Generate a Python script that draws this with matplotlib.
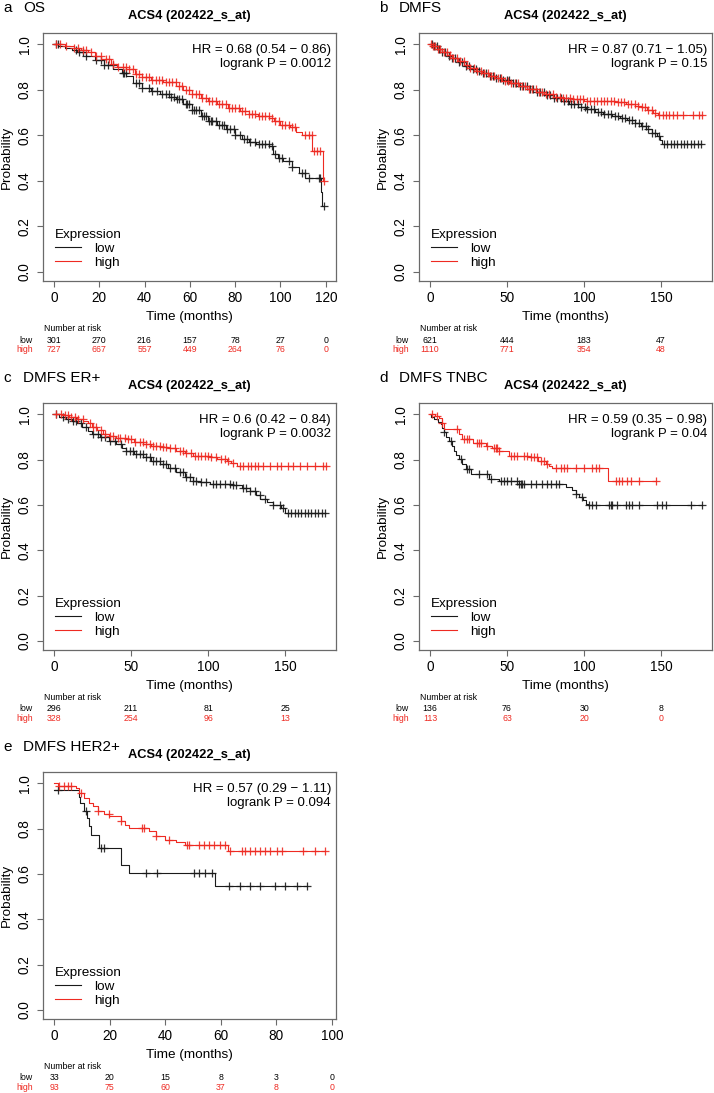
import numpy as np
import matplotlib
matplotlib.use("Agg")
import matplotlib.pyplot as plt
from matplotlib.lines import Line2D
from matplotlib.transforms import blended_transform_factory

plt.rcParams['font.family'] = ['Liberation Sans', 'DejaVu Sans']

LOW_COL = '#1a1a1a'
HIGH_COL = '#ee2a22'
FRAME = '#6a6a6a'
W, H = 714, 1093

# ---- a: OS ----
os_low_t = [0, 2, 5, 8, 10, 14, 18, 22, 26, 30, 32, 35, 39, 43, 47, 51, 54, 57, 61, 65, 68, 72,
            76, 80, 83, 86, 89, 95, 96.5, 99, 101, 105, 108, 111, 117.8, 118.3]
os_low_s = [1.0, 0.995, 0.985, 0.975, 0.965, 0.95, 0.93, 0.91, 0.89, 0.875, 0.86, 0.83, 0.81, 0.795,
            0.78, 0.768, 0.759, 0.74, 0.71, 0.685, 0.665, 0.645, 0.627, 0.60, 0.585, 0.57, 0.561,
            0.554, 0.517, 0.50, 0.488, 0.46, 0.436, 0.411, 0.35, 0.29]
os_low_cens = [1.0, 1.7, 9.8, 11.3, 12.7, 14.2, 18.6, 20.8, 22.3, 23.7, 25.9, 30.3, 31.0, 31.8, 36.2,
               37.7, 39.1, 42.0, 43.5, 45.7, 47.9, 49.4, 50.8, 51.6, 53.0, 54.5, 55.2, 56.7, 58.2,
               58.9, 59.6, 61.1, 61.8, 62.6, 64.0, 65.5, 66.2, 67.0, 68.4, 69.2, 69.9, 71.4, 72.8,
               74.3, 75.0, 76.5, 77.9, 79.4, 80.1, 82.3, 83.8, 85.3, 86.7, 88.9, 90.4, 91.9, 93.3,
               94.8, 96.3, 97.7, 99.2, 100.7, 103.6, 105.1, 109.4, 110.9, 112.4, 116.8, 117.5, 119.0]
os_high_t = [0, 5, 9, 12, 15, 18, 21, 25, 28, 32, 36, 39, 43, 48, 54, 57, 61, 65, 68, 72, 77, 82,
             86, 90, 95, 97, 100, 104, 107, 109.5, 114.1, 118.6]
os_high_s = [1.0, 0.995, 0.985, 0.975, 0.965, 0.95, 0.935, 0.915, 0.90, 0.89, 0.87, 0.855, 0.845,
             0.835, 0.818, 0.80, 0.781, 0.765, 0.752, 0.737, 0.722, 0.708, 0.693, 0.685, 0.678,
             0.665, 0.645, 0.635, 0.615, 0.60, 0.53, 0.40]
os_high_cens = [1.0, 2.5, 5.4, 9.1, 10.5, 12.7, 14.2, 16.4, 18.6, 20.8, 23.0, 24.5, 25.9, 28.1, 30.3,
                31.8, 33.3, 34.7, 36.2, 37.7, 39.1, 40.6, 42.0, 43.5, 45.0, 46.4, 47.9, 49.4, 50.8,
                52.3, 53.8, 55.2, 56.7, 58.2, 59.6, 61.1, 62.6, 64.0, 65.5, 67.0, 68.4, 69.9, 71.4,
                72.8, 74.3, 75.8, 77.2, 78.7, 80.1, 81.6, 83.1, 84.5, 86.0, 87.5, 88.9, 90.4, 91.9,
                93.3, 94.8, 96.3, 97.7, 99.2, 100.7, 102.1, 103.6, 105.1, 106.5, 110.9, 112.4,
                113.8, 114.8, 116.0, 117.5, 119.0]
os_risk_low = [301, 270, 216, 157, 78, 27, 0]
os_risk_high = [727, 667, 557, 449, 264, 76, 0]

# ---- b: DMFS ----
dmfs_low_t = [0, 2, 5, 8, 11, 14, 18, 22, 26, 30, 34, 38, 42, 47, 52, 58, 63, 69, 74, 80, 85, 90,
              96, 101, 107, 112, 118, 123, 128, 133, 137, 140, 144, 147, 149, 150.5]
dmfs_low_s = [1.0, 0.995, 0.98, 0.965, 0.95, 0.94, 0.922, 0.906, 0.893, 0.882, 0.872, 0.86, 0.852,
              0.842, 0.832, 0.818, 0.805, 0.79, 0.778, 0.765, 0.752, 0.74, 0.725, 0.715, 0.703,
              0.693, 0.685, 0.678, 0.668, 0.656, 0.64, 0.627, 0.61, 0.598, 0.578, 0.561]
dmfs_low_cens = [1.2, 2.9, 4.3, 6.2, 8.1, 10.0, 12.3, 14.4, 16.5, 18.9, 20.8, 23.3, 25.2, 27.7,
                 29.6, 32.1, 34.3, 36.2, 38.7, 40.6, 43.1, 45.3, 47.2, 49.7, 51.6, 54.1, 56.0,
                 58.5, 60.4, 62.9, 65.1, 67.0, 69.5, 71.4, 73.9, 76.1, 78.0, 80.5, 82.4, 84.9,
                 86.8, 89.3, 91.5, 93.4, 95.9, 97.8, 100.3, 102.2, 104.7, 106.6, 109.1, 111.3,
                 113.2, 115.7, 117.6, 120.1, 122.0, 124.5, 126.4, 128.9, 131.1, 133.0, 135.5,
                 137.4, 139.9, 141.8, 144.3, 146.2, 148.7, 152.0, 154.1, 156.3, 158.4, 160.6,
                 162.8, 164.9, 167.1, 169.3, 171.4, 173.6, 175.8]
dmfs_high_t = [0, 2, 5, 8, 11, 14, 18, 22, 26, 30, 34, 38, 42, 47, 52, 58, 63, 69, 74, 80, 86, 92,
               100, 112, 120, 127, 133, 137, 141, 145, 148]
dmfs_high_s = [1.0, 0.995, 0.98, 0.965, 0.952, 0.94, 0.925, 0.91, 0.895, 0.882, 0.872, 0.862,
               0.852, 0.84, 0.83, 0.818, 0.805, 0.79, 0.78, 0.77, 0.763, 0.758, 0.752, 0.749,
               0.745, 0.737, 0.73, 0.725, 0.712, 0.70, 0.689]
dmfs_high_cens = [0.8, 2.1, 3.6, 5.0, 6.7, 8.9, 10.8, 13.0, 15.2, 17.5, 19.6, 21.9, 24.1, 26.3,
                  28.6, 30.7, 33.0, 35.2, 37.4, 39.7, 41.8, 44.1, 46.3, 48.5, 50.8, 52.9, 55.2,
                  57.4, 59.6, 61.9, 64.0, 66.3, 68.5, 70.7, 73.0, 75.1, 77.4, 79.6, 81.8, 84.1,
                  86.2, 88.5, 90.7, 92.9, 95.2, 97.3, 99.6, 101.8, 104.0, 106.3, 108.4, 110.7,
                  112.9, 115.1, 117.4, 119.5, 121.8, 124.0, 126.2, 128.5, 130.6, 132.9, 135.1,
                  137.3, 139.6, 141.7, 144.0, 146.2, 148.7, 150.9, 153.0, 155.2, 157.4, 160.6,
                  163.9, 170.4, 174.7, 176.8]
dmfs_risk_low = [621, 444, 183, 47]
dmfs_risk_high = [1110, 771, 354, 48]

# ---- c: DMFS ER+ ----
er_low_t = [0, 3, 8, 12, 15, 18, 22, 25, 30, 36, 40, 44, 47, 52, 58, 63, 69, 74, 79, 85, 90, 95,
            101, 116, 122, 127, 131, 134, 138, 142, 147, 150]
er_low_s = [1.0, 0.99, 0.98, 0.97, 0.96, 0.945, 0.928, 0.912, 0.90, 0.883, 0.87, 0.852, 0.839,
            0.825, 0.81, 0.795, 0.781, 0.765, 0.744, 0.725, 0.707, 0.70, 0.693, 0.686, 0.675,
            0.661, 0.645, 0.627, 0.612, 0.598, 0.585, 0.564]
er_low_cens = [1.5, 5.8, 9.1, 12.3, 14.5, 17.7, 21.0, 25.3, 28.6, 30.7, 32.9, 36.2, 39.4, 43.7,
               47.0, 49.1, 51.3, 53.5, 55.6, 57.8, 60.0, 62.1, 64.3, 66.5, 68.6, 70.8, 72.9, 75.1,
               78.4, 81.6, 83.8, 86.0, 88.1, 90.3, 92.4, 95.7, 98.9, 103.2, 105.4, 107.6, 110.8,
               114.1, 116.2, 118.4, 122.7, 124.9, 127.0, 130.3, 133.5, 136.8, 142.2, 146.5,
               148.7, 151.9, 154.1, 156.3, 158.4, 160.6, 162.8, 164.9, 167.1, 169.3, 171.4,
               173.6, 175.8]
er_high_t = [0, 5, 10, 15, 19, 22, 25, 28, 32, 36, 40, 47, 52, 58, 63, 69, 74, 79, 85, 90, 101,
             106, 112, 115, 118.5]
er_high_s = [1.0, 0.995, 0.988, 0.98, 0.971, 0.96, 0.945, 0.93, 0.912, 0.905, 0.895, 0.89, 0.88,
             0.868, 0.862, 0.857, 0.85, 0.839, 0.828, 0.817, 0.81, 0.805, 0.795, 0.785, 0.773]
er_high_cens = [1.5, 4.8, 6.9, 9.1, 11.3, 13.4, 15.6, 18.8, 23.2, 25.3, 27.5, 30.7, 32.9, 36.2,
                38.3, 41.6, 42.6, 45.9, 48.1, 50.2, 52.4, 55.6, 57.8, 60.0, 62.1, 64.3, 66.5,
                68.6, 70.8, 72.9, 75.1, 78.4, 81.6, 83.8, 86.0, 89.2, 91.3, 93.5, 95.7, 97.8,
                100.0, 102.2, 105.4, 108.7, 110.8, 113.0, 116.2, 120.5, 122.7, 126.0, 128.1,
                130.3, 132.5, 135.7, 140.0, 144.4, 147.6, 151.9, 155.2, 159.5, 163.9, 169.3,
                174.7, 176.8]
er_risk_low = [296, 211, 81, 25]
er_risk_high = [328, 254, 96, 13]

# ---- d: DMFS TNBC ----
tnbc_low_t = [0, 1, 2.6, 5, 7, 8, 9.1, 10.5, 12.3, 14, 15.6, 17, 18.8, 21, 23.2, 26.4, 38.3, 44.8,
              57.8, 88, 92.4, 94.5, 96.8, 99, 101, 102.5]
tnbc_low_s = [1.0, 0.99, 0.978, 0.967, 0.956, 0.94, 0.92, 0.90, 0.883, 0.86, 0.839, 0.82, 0.803,
              0.78, 0.759, 0.737, 0.715, 0.705, 0.693, 0.678, 0.664, 0.65, 0.635, 0.62, 0.605, 0.60]
tnbc_low_cens = [9.1, 13.4, 19.9, 24.2, 25.3, 31.8, 37.2, 39.4, 45.9, 48.1, 50.2, 52.4, 56.7, 57.8,
                 58.9, 60.0, 61.0, 65.4, 68.6, 72.9, 76.2, 78.4, 81.6, 83.8, 94.6, 98.9, 103.2,
                 105.4, 107.6, 116.2, 117.3, 118.4, 121.6, 127.0, 129.2, 131.4, 135.7, 147.6,
                 150.8, 153.0, 169.2, 176.8]
tnbc_high_t = [0, 3, 5.8, 7.5, 9.1, 18.8, 21, 28, 36.2, 40, 44.8, 51.3, 64.3, 70, 75.1, 77, 79.4,
               115.4]
tnbc_high_s = [1.0, 0.993, 0.985, 0.96, 0.934, 0.912, 0.89, 0.875, 0.861, 0.85, 0.839, 0.817, 0.81,
               0.795, 0.781, 0.77, 0.763, 0.705]
tnbc_high_cens = [1.5, 4.8, 8.0, 17.7, 22.1, 24.2, 25.3, 30.7, 31.8, 32.9, 37.2, 41.6, 42.6, 43.7,
                  44.8, 52.4, 54.5, 56.7, 61.0, 63.2, 65.4, 67.5, 69.7, 71.9, 74.0, 76.2, 81.6,
                  84.9, 87.0, 89.2, 94.6, 100.0, 105.4, 107.6, 109.7, 120.5, 122.7, 124.9, 128.1,
                  130.3, 135.7, 146.5]
tnbc_risk_low = [136, 76, 30, 8]
tnbc_risk_high = [113, 63, 20, 0]

# ---- e: DMFS HER2+ ----
her2_low_t = [0, 8.8, 9.5, 10.9, 12, 12.7, 13.3, 16.1, 24, 27, 58]
her2_low_s = [0.97, 0.94, 0.913, 0.877, 0.847, 0.81, 0.774, 0.714, 0.641, 0.605, 0.545]
her2_low_cens = [1.3, 11.5, 16.8, 18.1, 33.0, 37.2, 50.3, 52.1, 54.5, 56.9, 62.9, 67.0, 70.6, 74.2,
                 79.6, 83.2, 87.3, 90.9]
her2_high_t = [0, 1.5, 2.5, 7.9, 9.1, 10.9, 12.7, 14, 15.7, 18, 19.9, 24, 25.5, 27, 34.2, 36.6,
               40.1, 44, 47.3, 62.5]
her2_high_s = [1.0, 0.99, 0.987, 0.979, 0.957, 0.935, 0.913, 0.9, 0.877, 0.866, 0.855, 0.833,
               0.818, 0.803, 0.789, 0.767, 0.752, 0.741, 0.73, 0.70]
her2_high_cens = [1.9, 3.7, 4.9, 6.1, 9.7, 15.7, 19.8, 24.0, 31.8, 32.4, 36.6, 41.4, 47.9, 48.5,
                  52.1, 53.9, 55.7, 57.5, 59.9, 61.7, 63.5, 67.6, 68.8, 70.6, 72.4, 74.2, 75.9,
                  77.8, 80.2, 81.9, 89.7, 93.9, 97.5]
her2_risk_low = [33, 20, 15, 8, 3, 0]
her2_risk_high = [93, 75, 60, 37, 8, 0]


def surv_at(t, s, x):
    idx = np.searchsorted(np.asarray(t), np.asarray(x), side='right') - 1
    return np.asarray(s)[idx]


def km(ax, t, s, cens, col):
    end = max(max(t), max(cens))
    ax.step(list(t) + [end], list(s) + [s[-1]], where='post', color=col, lw=0.8)
    ax.plot(cens, surv_at(t, s, cens), '+', color=col, ms=6, mew=0.9, alpha=0.9)


def fig_text(x, y, s, **kw):
    fig.text(x / W, 1 - y / H, s, **kw)


def panel(box, tag, name, xlim, xticks, low, high, hr, pval, risk_low, risk_high):
    left, top, right, bottom = box
    ax = fig.add_axes([left / W, 1 - bottom / H, (right - left) / W, (bottom - top) / H])
    km(ax, *low, LOW_COL)
    km(ax, *high, HIGH_COL)
    ax.set_xlim(*xlim)
    ax.set_ylim(-0.04, 1.05)
    ax.set_xticks(xticks)
    ax.set_yticks([0, 0.2, 0.4, 0.6, 0.8, 1.0])
    ax.set_yticklabels(['0.0', '0.2', '0.4', '0.6', '0.8', '1.0'])
    ax.tick_params(length=4, width=0.8, color=FRAME, labelsize=9.8, pad=3)
    ax.tick_params(axis='y', labelrotation=90, pad=4)
    for lab in ax.get_yticklabels():
        lab.set_va('center')
    for sp in ax.spines.values():
        sp.set_color(FRAME)
        sp.set_linewidth(0.9)

    ax.text(-0.123, 0.5, 'Probability', rotation=90, ha='center', va='center',
            fontsize=9.7, transform=ax.transAxes)
    ax.text(0.5, -0.145, 'Time (months)', ha='center', va='center',
            fontsize=9.7, transform=ax.transAxes)
    ax.text(0.983, 0.955, f'HR = {hr}\nlogrank P = {pval}', ha='right', va='top',
            fontsize=9.5, linespacing=1.25, transform=ax.transAxes)

    handles = [Line2D([], [], color=LOW_COL, lw=0.8), Line2D([], [], color=HIGH_COL, lw=0.8)]
    ax.legend(handles, ['low', 'high'], title='Expression', loc='lower left',
              bbox_to_anchor=(0.01, 0.01), frameon=False, alignment='left',
              fontsize=9.7, title_fontsize=9.7, handlelength=1.9,
              handletextpad=1.0, labelspacing=0.12, borderpad=0.2)

    # number at risk table
    tr = blended_transform_factory(ax.transData, ax.transAxes)
    ax.text(0.002, -0.193, 'Number at risk', fontsize=6.3, ha='left', va='center',
            transform=ax.transAxes)
    ax.text(-0.035, -0.238, 'low', fontsize=6.3, ha='right', va='center', transform=ax.transAxes)
    ax.text(-0.035, -0.278, 'high', fontsize=6.3, ha='right', va='center', color=HIGH_COL,
            transform=ax.transAxes)
    for x, nl, nh in zip(xticks, risk_low, risk_high):
        ax.text(x, -0.238, str(nl), fontsize=6.3, ha='center', va='center', transform=tr)
        ax.text(x, -0.278, str(nh), fontsize=6.3, ha='center', va='center', color=HIGH_COL,
                transform=tr)

    # title and panel tag
    fig_text((left + right) / 2, top - 17, 'ACS4 (202422_s_at)', fontsize=9.3,
             fontweight='bold', ha='center', va='center')
    fig_text(left - 40, top - 25, tag, fontsize=11, ha='left', va='center')
    fig_text(left - 20, top - 25, name, fontsize=11, ha='left', va='center')
    return ax


fig = plt.figure(figsize=(W / 100, H / 100), dpi=100)

panel((43, 33, 336, 281), 'a', 'OS', (-4.8, 124.5), [0, 20, 40, 60, 80, 100, 120],
      (os_low_t, os_low_s, os_low_cens), (os_high_t, os_high_s, os_high_cens),
      '0.68 (0.54 \u2212 0.86)', '0.0012', os_risk_low, os_risk_high)
panel((419, 33, 712, 281), 'b', 'DMFS', (-7.1, 183), [0, 50, 100, 150],
      (dmfs_low_t, dmfs_low_s, dmfs_low_cens), (dmfs_high_t, dmfs_high_s, dmfs_high_cens),
      '0.87 (0.71 \u2212 1.05)', '0.15', dmfs_risk_low, dmfs_risk_high)
panel((43, 403, 336, 650), 'c', 'DMFS ER+', (-7.1, 183), [0, 50, 100, 150],
      (er_low_t, er_low_s, er_low_cens), (er_high_t, er_high_s, er_high_cens),
      '0.6 (0.42 \u2212 0.84)', '0.0032', er_risk_low, er_risk_high)
panel((419, 403, 712, 650), 'd', 'DMFS TNBC', (-7.1, 183), [0, 50, 100, 150],
      (tnbc_low_t, tnbc_low_s, tnbc_low_cens), (tnbc_high_t, tnbc_high_s, tnbc_high_cens),
      '0.59 (0.35 \u2212 0.98)', '0.04', tnbc_risk_low, tnbc_risk_high)
panel((43, 772, 336, 1019), 'e', 'DMFS HER2+', (-4.0, 101.5), [0, 20, 40, 60, 80, 100],
      (her2_low_t, her2_low_s, her2_low_cens), (her2_high_t, her2_high_s, her2_high_cens),
      '0.57 (0.29 \u2212 1.11)', '0.094', her2_risk_low, her2_risk_high)

fig.savefig('out.png', dpi=100)
